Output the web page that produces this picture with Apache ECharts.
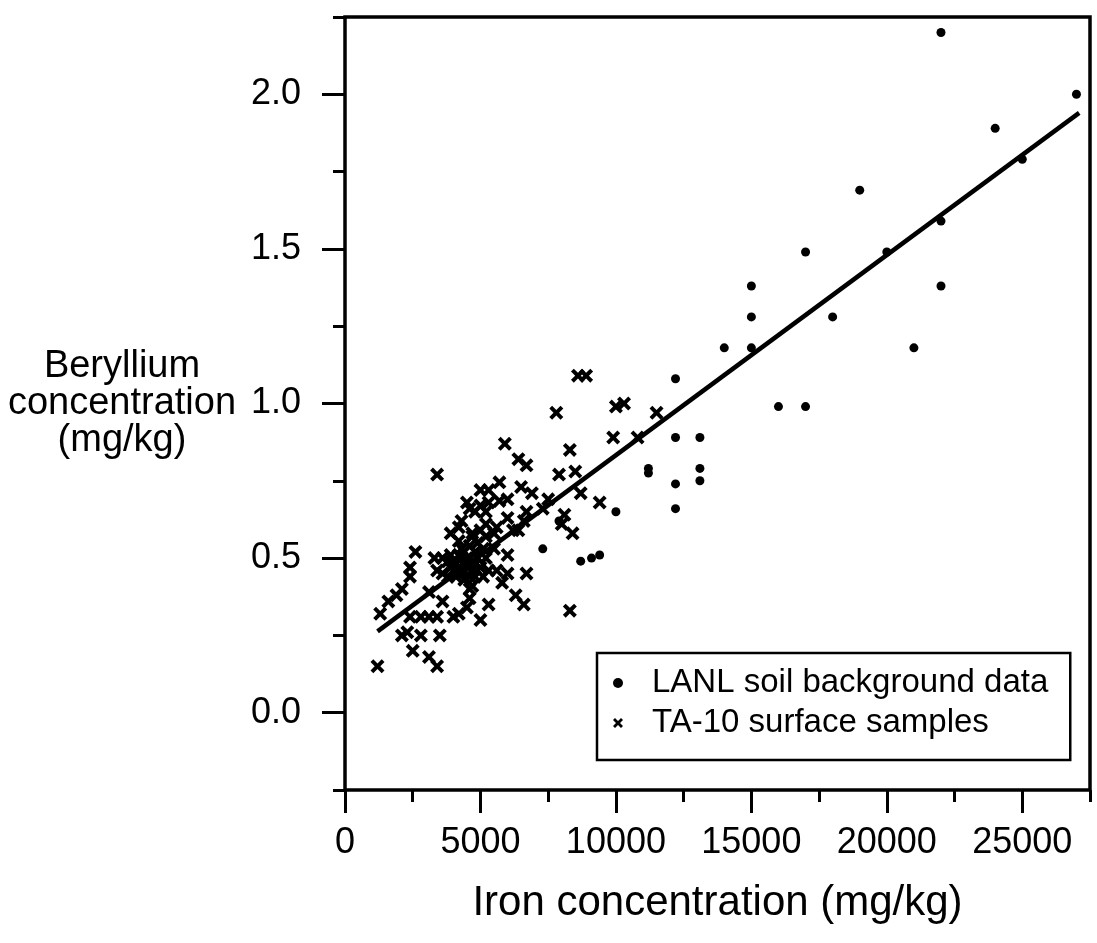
<!DOCTYPE html>
<html><head><meta charset="utf-8">
<script src="https://cdn.jsdelivr.net/npm/echarts@6/dist/echarts.min.js"></script>
<style>html,body{margin:0;padding:0;background:#fff}#c{width:1097px;height:943px}</style>
</head><body><div id="c"></div>
<script>
// ---- data (Iron mg/kg, Beryllium mg/kg) ----
const lanlData = [
  [22000,2.20],[27000,2.00],[24000,1.89],[25000,1.79],[19000,1.69],[22000,1.59],
  [20000,1.49],[17000,1.49],[15000,1.38],[22000,1.38],[15000,1.28],[18000,1.28],
  [14000,1.18],[15000,1.18],[21000,1.18],[16000,0.99],[17000,0.99],[12200,1.08],
  [12200,0.89],[13100,0.89],[11200,0.79],[11200,0.775],[13100,0.79],[13100,0.75],
  [12200,0.74],[12200,0.66],[10000,0.65],[8700,0.49],[9100,0.50],[9400,0.51],
  [7300,0.53],[7900,0.62]
];
const ta10Data = [
  [1200,0.15],[3400,0.15],
  [1300,0.32],[1600,0.36],[1900,0.38],[2100,0.40],
  [2100,0.25],[2300,0.26],[2800,0.25],[3500,0.25],[2500,0.20],[3100,0.18],
  [2400,0.31],[2800,0.31],[3100,0.31],[3400,0.31],
  [2400,0.47],[2400,0.44],[2600,0.52],[3300,0.50],[3600,0.50],[3400,0.46],[3600,0.45],
  [3100,0.39],[3600,0.36],[3400,0.77],
  [4000,0.31],[4200,0.32],[4500,0.34],[4600,0.37],[4600,0.40],[4700,0.41],[5000,0.30],[5300,0.35],
  [3900,0.47],[4200,0.47],[4000,0.46],[4300,0.45],[4400,0.43],[4600,0.44],[4700,0.46],[5000,0.47],[5100,0.44],[4800,0.44],
  [3900,0.51],[4200,0.51],[4500,0.50],[4000,0.49],[4500,0.49],[4800,0.48],[4400,0.48],[4600,0.50],[4800,0.52],[5200,0.50],[4300,0.53],[4600,0.54],
  [4100,0.48],[4300,0.50],[4500,0.47],[4700,0.49],[4400,0.46],[4900,0.50],[4100,0.44],[3800,0.44],[4400,0.52],[3800,0.49],
  [4200,0.555],[4700,0.57],[4900,0.55],[5100,0.53],[5500,0.53],[3900,0.58],[4200,0.60],[4300,0.62],[4700,0.58],[5000,0.59],[5200,0.57],[5500,0.58],[5200,0.61],[5600,0.60],
  [4600,0.66],[4800,0.65],[5000,0.67],[5200,0.65],[5300,0.68],[4500,0.68],[5000,0.72],[5300,0.72],[5700,0.745],[5700,0.685],[6000,0.69],[5900,0.87],
  [5600,0.46],[5300,0.46],[5800,0.42],[6000,0.45],[6000,0.51],[6300,0.38],[6600,0.35],[6700,0.45],
  [6000,0.63],[6200,0.59],[6400,0.59],[6600,0.62],[6700,0.65],[7300,0.66],[6500,0.73],[6900,0.71],[7500,0.69],[6400,0.82],[6700,0.80],
  [7800,0.97],[7900,0.77],[8000,0.61],[8100,0.64],[8400,0.58],[8300,0.85],[8500,0.78],[8700,0.71],[9400,0.68],[8300,0.33],
  [8600,1.09],[8900,1.09],[9900,0.89],[10000,0.99],[10300,1.00],[10800,0.89],[11500,0.97]
];
const fitLine = [[1200,0.263],[27100,1.94]];
const xTickLabels = [0,5000,10000,15000,20000,25000];
const yTickLabels = [0.0,0.5,1.0,1.5,2.0];
const xRange = [0,27500], xMinor = 2500;
const yRange = [-0.25,2.25], yMinor = 0.25;
const seriesNames = ['LANL soil background data','TA-10 surface samples'];

// ---- layout ----
const FONT = 'Liberation Sans, Arial, Helvetica, sans-serif';
const G = {left:345, top:17, width:745, height:773};
const px = v => G.left + (v - xRange[0]) / (xRange[1] - xRange[0]) * G.width;
const py = v => G.top + (yRange[1] - v) / (yRange[1] - yRange[0]) * G.height;
const yMajTop = py(yTickLabels[yTickLabels.length-1]);
const yMajBot = py(yTickLabels[0]);
const xMajRight = px(xTickLabels[xTickLabels.length-1]);
const CROSS = 'path://M2,0 L5,3 L8,0 L10,2 L7,5 L10,8 L8,10 L5,7 L2,10 L0,8 L3,5 L0,2 Z';
const tickStyle = {color:'#000', width:3};

const chart = echarts.init(document.getElementById('c'), null, {renderer:'canvas'});
chart.setOption({
  animation:false,
  backgroundColor:'#fff',
  grid:[
    {left:G.left, top:G.top, width:G.width, height:G.height, show:true, borderColor:'#000', borderWidth:3.5, backgroundColor:'transparent', outerBoundsMode:'none'},
    {left:G.left, top:yMajTop, width:G.width, height:yMajBot - yMajTop, show:false, outerBoundsMode:'none'},
    {left:G.left, top:G.top, width:xMajRight - G.left, height:G.height, show:false, outerBoundsMode:'none'}
  ],
  xAxis:[
    {gridIndex:0, type:'value', position:'bottom', min:xRange[0], max:xRange[1], interval:xMinor,
     axisLine:{show:false, onZero:false}, axisTick:{show:true, length:12, lineStyle:tickStyle},
     axisLabel:{show:false}, splitLine:{show:false},
     name:'Iron concentration (mg/kg)', nameLocation:'middle', nameGap:113,
     nameTextStyle:{fontFamily:FONT, fontSize:42, color:'#000', align:'center', verticalAlign:'middle'}},
    {gridIndex:1, type:'value', min:0, max:1, show:false},
    {gridIndex:2, type:'value', position:'bottom', min:xTickLabels[0], max:xTickLabels[xTickLabels.length-1], interval:xTickLabels[1]-xTickLabels[0],
     axisLine:{show:false, onZero:false}, axisTick:{show:true, length:23, lineStyle:tickStyle},
     axisLabel:{show:true, fontFamily:FONT, fontSize:36, color:'#000', margin:35, formatter:v=>String(v)},
     splitLine:{show:false}}
  ],
  yAxis:[
    {gridIndex:0, type:'value', position:'left', min:yRange[0], max:yRange[1], interval:yMinor,
     axisLine:{show:false, onZero:false}, axisTick:{show:true, length:12, lineStyle:tickStyle},
     axisLabel:{show:false}, splitLine:{show:false},
     name:'Beryllium\nconcentration\n(mg/kg)', nameLocation:'middle', nameGap:223, nameRotate:0,
     nameTextStyle:{fontFamily:FONT, fontSize:38, lineHeight:37, color:'#000', align:'center', verticalAlign:'middle', padding:[8,0,0,0]}},
    {gridIndex:1, type:'value', position:'left', min:yTickLabels[0], max:yTickLabels[yTickLabels.length-1], interval:yTickLabels[1]-yTickLabels[0],
     axisLine:{show:false, onZero:false}, axisTick:{show:true, length:23, lineStyle:tickStyle},
     axisLabel:{show:true, fontFamily:FONT, fontSize:36, color:'#000', margin:44, formatter:v=>v.toFixed(1)},
     splitLine:{show:false}},
    {gridIndex:2, type:'value', min:0, max:1, show:false}
  ],
  legend:{
    orient:'vertical', left:597, top:653, selectedMode:false,
    data:[{name:seriesNames[0], icon:'circle'},{name:seriesNames[1], icon:CROSS}],
    itemWidth:10, itemHeight:10, itemGap:6,
    padding:[13,22,20,16], borderColor:'#000', borderWidth:2.5, backgroundColor:'#fff',
    textStyle:{fontFamily:FONT, fontSize:33, lineHeight:34, color:'#000', padding:[0,0,0,24]}
  },
  series:[
    {name:seriesNames[0], type:'scatter', xAxisIndex:0, yAxisIndex:0, data:lanlData,
     symbol:'circle', symbolSize:9, itemStyle:{color:'#000', opacity:1}, z:3},
    {name:seriesNames[1], type:'scatter', xAxisIndex:0, yAxisIndex:0, data:ta10Data,
     symbol:CROSS, symbolSize:14, itemStyle:{color:'#000', opacity:1}, z:3},
    {name:'fit', type:'line', xAxisIndex:0, yAxisIndex:0, data:fitLine,
     symbol:'none', lineStyle:{color:'#000', width:4.5}, silent:true, z:2}
  ]
});
</script></body></html>
